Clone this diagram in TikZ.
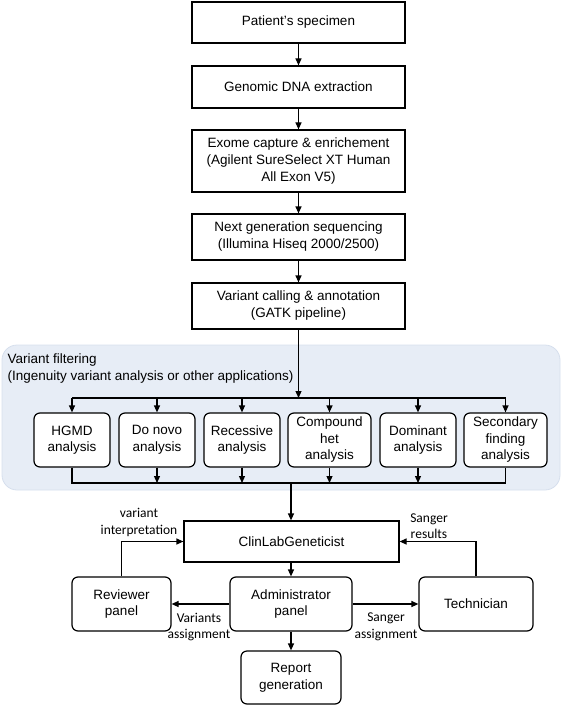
\documentclass[tikz,border=0pt]{standalone}
\usepackage{fontspec}
\setmainfont{Liberation Sans}
\newfontfamily\lblfont{Carlito}
\usetikzlibrary{arrows.meta}
\definecolor{panelfill}{RGB}{231,237,246}
\definecolor{panelline}{RGB}{214,223,237}

\begin{document}
\begin{tikzpicture}[
            x=1pt, y=-1pt, % pixel grid, y pointing down
            -{Triangle[length=7pt,width=6pt]}, % arrow head style
            line width=1.2pt, % line style
            font=\fontsize{13.5}{17}\selectfont,
            stepbox/.style={draw, rectangle, align=center, inner sep=0pt,
            minimum width=213pt},
            testbox/.style={draw, rectangle, rounded corners=6pt, fill=white,
            align=center, inner sep=0pt, minimum height=54pt,
            font=\fontsize{13.5}{16.5}\selectfont},
            lbl/.style={align=center, inner sep=0pt,
            font=\lblfont\fontsize{13.5}{16.5}\selectfont}
            ]
            \useasboundingbox (0,0) rectangle (567,706);

            % pipeline
            \node[stepbox, minimum height=41pt] (1) at (298.5,22.5) {Patient’s specimen};
            \node[stepbox, minimum height=42pt] (2) at (298.5,87) {Genomic DNA extraction};
            \node[stepbox, minimum height=62pt] (3) at (298.5,161) {Exome capture \& enrichement\\(Agilent SureSelect XT Human\\All Exon V5)};
            \node[stepbox, minimum height=46pt] (4) at (298.5,237) {Next generation sequencing\\(Illumina Hiseq 2000/2500)};
            \node[stepbox, minimum height=46pt] (5) at (298.5,306) {Variant calling \& annotation\\(GATK pipeline)};

            \path (1) edge (2);
            \path (2) edge (3);
            \path (3) edge (4);
            \path (4) edge (5);

            % variant filtering panel
            \draw[-, draw=panelline, fill=panelfill, line width=0.8pt,
            rounded corners=15pt] (2,345) rectangle (560,490);
            \node[anchor=west, align=left, inner sep=0pt] (0) at (7,369) {Variant filtering\\(Ingenuity variant analysis or other applications)};

            \node[testbox, minimum width=76pt] (6) at (72,440) {HGMD\\analysis};
            \node[testbox, minimum width=76pt] (7) at (157,440) {Do novo\\analysis};
            \node[testbox, minimum width=76pt] (8) at (242,440) {Recessive\\analysis};
            \node[testbox, minimum width=83pt] (9) at (329.5,440) {Compound\\het\\analysis};
            \node[testbox, minimum width=76pt] (10) at (418,440) {Dominant\\analysis};
            \node[testbox, minimum width=83pt] (11) at (505.5,440) {Secondary\\finding\\analysis};

            \coordinate (top) at (298.5,398);
            \coordinate (bot) at (291,483);
            \draw (5) -- (top);
            \draw[-] (top -| 6.north) -- (top -| 11.north);
            \foreach \n in {6,...,11}
                \draw (top -| \n.north) -- (\n.north);
            \draw[-] (6.south) |- (bot -| 11.south) -- (11.south);
            \foreach \n in {7,...,10}
                \draw (\n.south) -- (bot -| \n.south);

            % review
            \node[draw, rectangle, inner sep=0pt, minimum width=215pt,
            minimum height=41pt] (12) at (291.5,541.5) {ClinLabGeneticist};
            \node[testbox, minimum width=122pt] (13) at (291,604) {Administrator\\panel};
            \node[testbox, minimum width=99pt] (14) at (121.5,604) {Reviewer\\panel};
            \node[testbox, minimum width=114pt] (15) at (476,604) {Technician};
            \node[testbox, minimum width=100pt, minimum height=53pt] (16) at (291,677.5) {Report\\generation};

            \draw (bot) -- (bot |- 12.north);
            \draw (bot |- 12.south) -- (bot |- 13.north);
            \draw (bot |- 13.south) -- (bot |- 16.north);
            \draw (13.west) -- (14.east);
            \draw (13.east) -- (15.west);
            \draw (14.north) |- (12.west);
            \draw (15.north) |- (12.east);

            \node[lbl] (17) at (139,522.5) {variant\\interpretation};
            \node[lbl] (18) at (429,526) {Sanger\\results};
            \node[lbl] (19) at (199,627) {Variants\\assignment};
            \node[lbl] (20) at (386,627) {Sanger\\assignment};
        \end{tikzpicture}
\end{document}
